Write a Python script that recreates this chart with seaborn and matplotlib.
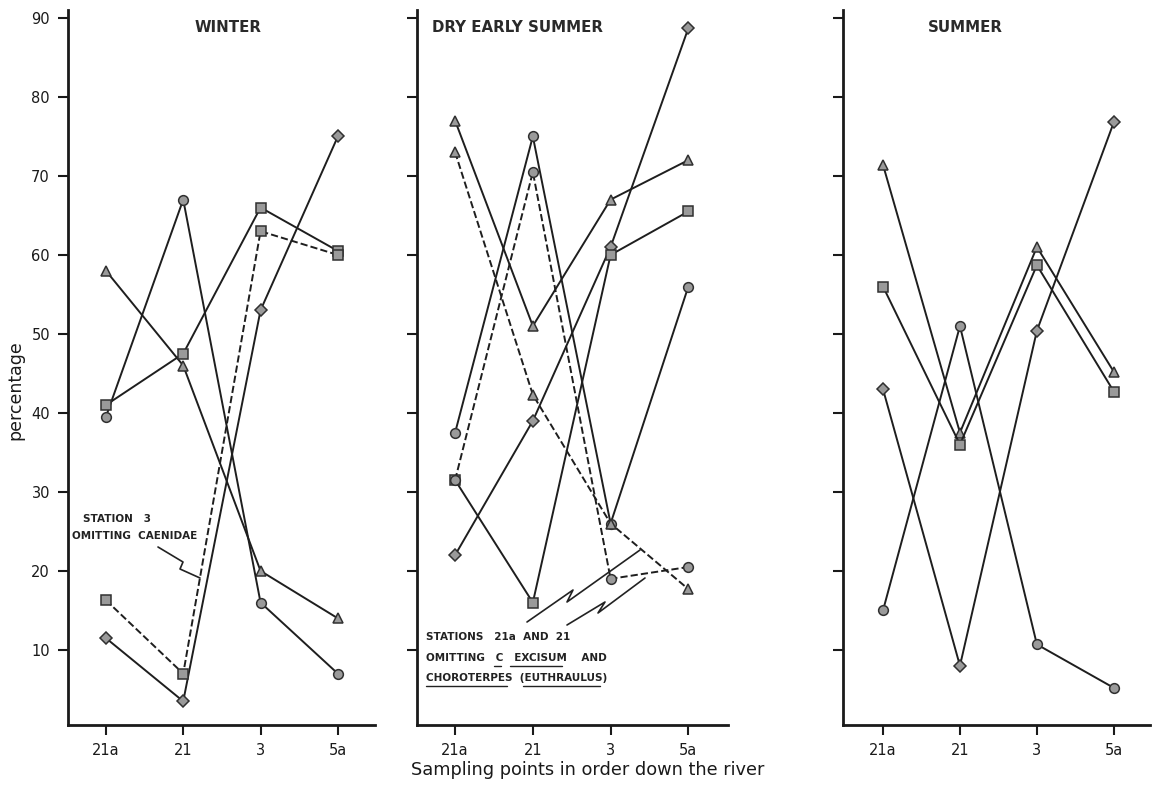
import numpy as np
import pandas as pd
import matplotlib
matplotlib.use("Agg")
import matplotlib.pyplot as plt
import seaborn as sns

# ---------------- data ----------------
stations = ["21a", "21", "3", "5a"]

winter_triangle = [58, 46, 20, 14]
winter_circle = [39.5, 67, 16, 7]
winter_square = [41, 47.5, 66, 60.5]
winter_diamond = [11.5, 3.5, 53, 75]
winter_dashed = [16.3, 7, 63, 60]

des_triangle = [77, 51, 67, 72]
des_circle = [37.5, 75, 26, 56]
des_diamond = [22, 39, 61, 88.7]
des_square = [31.5, 16, 60, 65.5]
des_dashed_triangle = [73, 42.3, 26, 17.7]
des_dashed_circle = [31.5, 70.5, 19, 20.5]

summer_triangle = [71.4, 37.5, 61, 45.2]
summer_square = [56, 36, 58.7, 42.7]
summer_circle = [15, 51, 10.7, 5.2]
summer_diamond = [43, 8, 50.4, 76.8]

y_ticks = [10, 20, 30, 40, 50, 60, 70, 80, 90]

panels = [
    ("WINTER", [
        (winter_triangle, "^", "-"),
        (winter_circle, "o", "-"),
        (winter_square, "s", "-"),
        (winter_diamond, "D", "-"),
        (winter_dashed, "s", "--"),
    ]),
    ("DRY EARLY SUMMER", [
        (des_triangle, "^", "-"),
        (des_circle, "o", "-"),
        (des_diamond, "D", "-"),
        (des_square, "s", "-"),
        (des_dashed_triangle, "^", "--"),
        (des_dashed_circle, "o", "--"),
    ]),
    ("SUMMER", [
        (summer_triangle, "^", "-"),
        (summer_square, "s", "-"),
        (summer_circle, "o", "-"),
        (summer_diamond, "D", "-"),
    ]),
]

# ---------------- figure ----------------
sns.set_theme(style="ticks")
plt.rcParams["font.family"] = ["DejaVu Sans"]

W, H = 1152, 789
fig = plt.figure(figsize=(W / 100, H / 100), dpi=100)
fig.patch.set_facecolor("white")

# axes boxes in pixels: left, right, xlim
boxes = [(68, 375, -0.49, 3.48), (417, 728, -0.49, 3.51), (843, 1150, -0.52, 3.47)]
top_px, bot_px = 10, 725

axes = []
for (l, r, x0, x1) in boxes:
    ax = fig.add_axes([l / W, 1 - bot_px / H, (r - l) / W, (bot_px - top_px) / H])
    ax.set_xlim(x0, x1)
    ax.set_ylim(0.5, 91)
    axes.append(ax)

line_col = "#1e1e1e"
for ax, (title, series) in zip(axes, panels):
    ax.set_facecolor("white")
    for vals, mk, ls in series:
        df = pd.DataFrame({"pos": np.arange(len(stations)), "value": vals})
        sns.lineplot(data=df, x="pos", y="value", ax=ax, sort=False,
                     color=line_col, linewidth=1.4, linestyle=ls,
                     marker=mk, markersize=7 if mk != "D" else 6,
                     markerfacecolor="#9a9a9a", markeredgecolor="#303030",
                     markeredgewidth=1.1, zorder=3)
    for s in ["top", "right"]:
        ax.spines[s].set_visible(False)
    for s in ["left", "bottom"]:
        ax.spines[s].set_linewidth(2.0)
        ax.spines[s].set_color("#1a1a1a")
    ax.set_xticks(range(len(stations)))
    ax.set_xticklabels(stations, fontsize=10.5)
    ax.set_yticks(y_ticks)
    ax.tick_params(axis="both", direction="out", length=7, width=1.5,
                   colors="#1a1a1a", pad=6)
    ax.set_xlabel("")
    ax.set_ylabel("")
    ax.grid(False)

axes[0].set_yticklabels([str(t) for t in y_ticks], fontsize=10.5)
axes[1].set_yticklabels([])
axes[2].set_yticklabels([])

# titles
tfs = 10.8
fig.text(228 / W, 1 - 28 / H, "WINTER", ha="center", va="center",
         fontsize=tfs, fontweight="bold", color="#2a2a2a")
fig.text(432 / W, 1 - 28 / H, "DRY EARLY SUMMER", ha="left", va="center",
         fontsize=tfs, fontweight="bold", color="#2a2a2a")
fig.text(965 / W, 1 - 28 / H, "SUMMER", ha="center", va="center",
         fontsize=tfs, fontweight="bold", color="#2a2a2a")

# axis labels
fig.text(15 / W, 1 - 390 / H, "percentage", rotation=90, ha="center",
         va="center", fontsize=12.5, color="#1a1a1a")
fig.text(588 / W, 1 - 770 / H, "Sampling points in order down the river",
         ha="center", va="center", fontsize=12.8, color="#1a1a1a")


def px_to_data(ax, pts):
    """Convert pixel positions of annotation decoration to data coords."""
    inv = ax.transData.inverted()
    return np.array([inv.transform((x, H - y)) for x, y in pts])


fig.canvas.draw()

afs = 7.5
acol = "#222222"
# winter annotation
axw = axes[0]
fig.text(83 / W, 1 - 519 / H, "STATION   3", ha="left", va="center",
         fontsize=afs, fontweight="bold", color=acol)
fig.text(72 / W, 1 - 536 / H, "OMITTING  CAENIDAE", ha="left",
         va="center", fontsize=afs, fontweight="bold", color=acol)
zz = px_to_data(axw, [(158, 547), (183, 562), (180, 569), (200, 578)])
axw.plot(zz[:, 0], zz[:, 1], color=acol, lw=1.2, zorder=4)

# dry early summer annotation
axd = axes[1]
fig.text(426 / W, 1 - 637 / H, "STATIONS   21a  AND  21", ha="left",
         va="center", fontsize=afs, fontweight="bold", color=acol)
fig.text(426 / W, 1 - 658 / H, "OMITTING   C   EXCISUM    AND", ha="left",
         va="center", fontsize=afs, fontweight="bold", color=acol)
fig.text(426 / W, 1 - 678 / H, "CHOROTERPES  (EUTHRAULUS)", ha="left",
         va="center", fontsize=afs, fontweight="bold", color=acol)
underlines = [(494, 501, 666), (510, 562, 666), (426, 507, 686), (523, 600, 686)]
for x0, x1, yy in underlines:
    fig.add_artist(plt.Line2D([x0 / W, x1 / W], [1 - yy / H, 1 - yy / H],
                              color=acol, lw=1.0))
z1 = px_to_data(axd, [(527, 622), (573, 590), (567, 602), (640, 550)])
z2 = px_to_data(axd, [(567, 625), (605, 602), (598, 613), (645, 578)])
for z in (z1, z2):
    axd.plot(z[:, 0], z[:, 1], color=acol, lw=1.2, zorder=4)

fig.savefig("out.png", dpi=100, facecolor="white")
